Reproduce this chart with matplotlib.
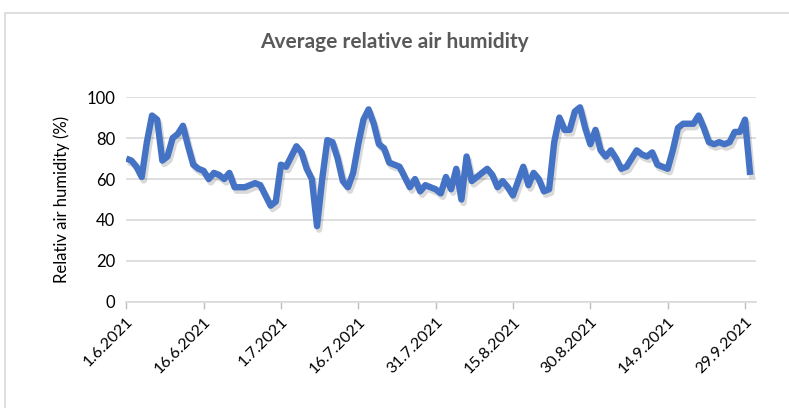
import matplotlib

matplotlib.use("Agg")
import matplotlib.pyplot as plt
import matplotlib.patheffects as pe
from matplotlib.patches import Rectangle

plt.rcParams["font.family"] = ["Lato", "DejaVu Sans"]

# daily averages, 1.6.2021 - 30.9.2021
days = list(range(122))
humidity = [
    70, 69, 66, 61, 78, 91, 89, 69, 71, 80,
    82, 86, 76, 67, 65, 64, 60, 63, 62, 60,
    63, 56, 56, 56, 57, 58, 57, 52, 47, 49,
    67, 66, 71, 76, 73, 65, 60, 37, 60, 79,
    78, 70, 59, 56, 63, 77, 89, 94, 87, 77,
    75, 68, 67, 66, 61, 56, 60, 54, 57, 56,
    55, 53, 61, 55, 65, 50, 71, 59, 61, 63,
    65, 62, 56, 59, 56, 52, 59, 66, 57, 63,
    60, 54, 55, 78, 90, 84, 84, 93, 95, 85,
    77, 84, 74, 71, 74, 70, 65, 66, 70, 74,
    72, 71, 73, 67, 66, 65, 74, 85, 87, 87,
    87, 91, 85, 78, 77, 78, 77, 78, 83, 83,
    89, 62,
]
tick_days = [0, 15, 30, 45, 60, 75, 90, 105, 120]
tick_labels = [
    "1.6.2021", "16.6.2021", "1.7.2021", "16.7.2021", "31.7.2021",
    "15.8.2021", "30.8.2021", "14.9.2021", "29.9.2021",
]
y_ticks = [0, 20, 40, 60, 80, 100]

fig = plt.figure(figsize=(7.89, 4.08), dpi=100)
fig.patches.append(
    Rectangle((5 / 789, -0.01), 1.0, 1 - 13 / 408 + 0.01,
              transform=fig.transFigure, fill=False,
              edgecolor="#d9d9d9", linewidth=1.2)
)

ax = fig.add_axes([0.160, 0.260, 0.798, 0.502])
ax.plot(
    days, humidity, color="#4472C4", linewidth=4.6, solid_joinstyle="round",
    solid_capstyle="butt",
    path_effects=[
        pe.SimpleLineShadow(offset=(1.5, -2.5), shadow_color="#000000", alpha=0.15),
        pe.Normal(),
    ],
    zorder=3,
)

ax.set_xlim(0, 122.1)
ax.set_ylim(0, 100)
ax.set_yticks(y_ticks)
ax.set_xticks(tick_days)
ax.set_xticklabels(tick_labels, rotation=45, ha="right", rotation_mode="anchor",
                   fontsize=11.5)
ax.tick_params(axis="y", length=0, labelsize=12, pad=8)
ax.tick_params(axis="x", length=5, color="#bfbfbf", width=1, pad=4)
ax.grid(axis="y", color="#d9d9d9", linewidth=1.2)
ax.set_axisbelow(True)
for side in ["top", "right", "left"]:
    ax.spines[side].set_visible(False)
ax.spines["bottom"].set_color("#d9d9d9")
ax.spines["bottom"].set_linewidth(1.2)

ax.set_ylabel("Relativ air humidity (%)", fontsize=12, labelpad=12)
fig.text(0.5, 1 - 42 / 408, "Average relative air humidity", ha="center",
         va="center", fontsize=15, fontweight="bold", color="#595959")

fig.savefig("out.png", dpi=100)
plt.close(fig)
